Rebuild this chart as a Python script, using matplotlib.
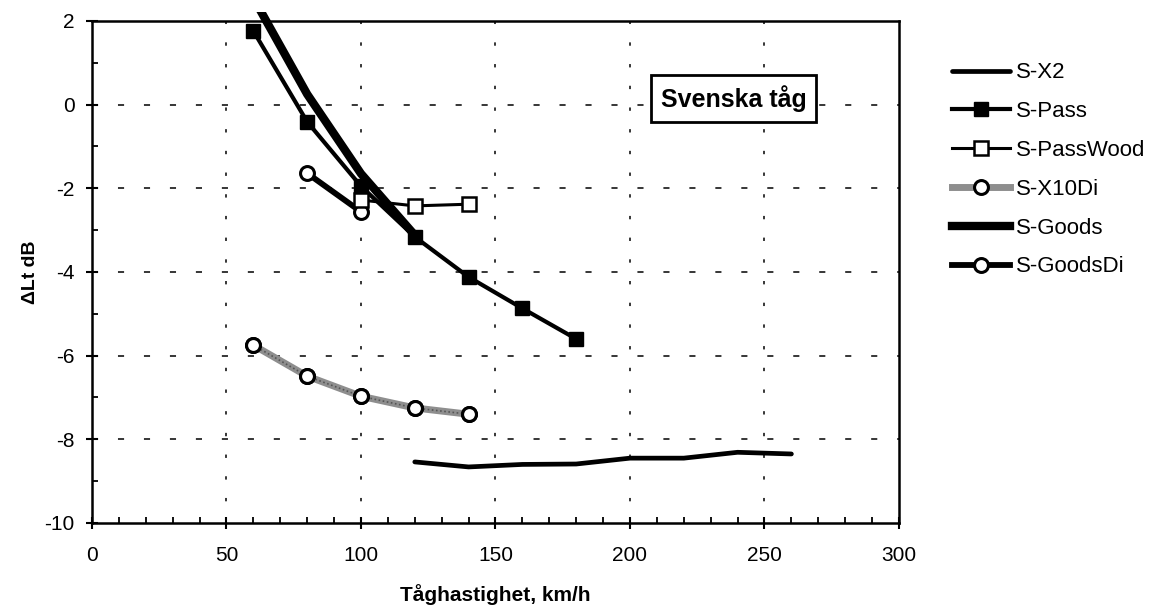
import matplotlib
matplotlib.use("Agg")
import matplotlib.pyplot as plt
from matplotlib.patches import Rectangle
from matplotlib.ticker import MultipleLocator

plt.rcParams['font.family'] = ['Liberation Sans', 'DejaVu Sans']
plt.rcParams['axes.unicode_minus'] = False

# Speed (km/h) and level difference (dB) for each train type
x_x2 = [120, 140, 160, 180, 200, 220, 240, 260]
y_x2 = [-8.54, -8.66, -8.60, -8.59, -8.45, -8.45, -8.31, -8.35]

x_pass = [60, 80, 100, 120, 140, 160, 180]
y_pass = [1.76, -0.41, -1.95, -3.16, -4.12, -4.87, -5.60]

x_passwood = [100, 120, 140]
y_passwood = [-2.28, -2.42, -2.38]

x_x10di = [60, 80, 100, 120, 140]
y_x10di = [-5.75, -6.49, -6.97, -7.25, -7.40]

x_goods = [60, 80, 100, 120]
y_goods = [2.55, 0.25, -1.65, -3.12]

x_goodsdi = [80, 100]
y_goodsdi = [-1.64, -2.56]

fig = plt.figure(figsize=(11.57, 6.15), dpi=100)
ax = fig.add_axes([0.0795, 0.1496, 0.6975, 0.8163])

ax.set_xlim(0, 300)
ax.set_ylim(-10, 2)

# grid: dashed horizontals, dotted verticals
for yv in [0, -2, -4, -6, -8]:
    ax.axhline(yv, color='black', lw=1.1, dashes=(4, 13), zorder=1)
for xv in [50, 100, 150, 200, 250]:
    ax.axvline(xv, color='black', lw=1.1, dashes=(2.2, 12), zorder=1)

l_x2, = ax.plot(x_x2, y_x2, color='black', lw=3.4, solid_capstyle='round',
                label='S-X2', zorder=3)
l_pass, = ax.plot(x_pass, y_pass, color='black', lw=3.0, marker='s', ms=10,
                  mfc='black', mec='black', label='S-Pass', zorder=4)
l_wood, = ax.plot(x_passwood, y_passwood, color='black', lw=2.2, marker='s',
                  ms=10, mfc='white', mec='black', mew=1.8,
                  label='S-PassWood', zorder=5)
# hatched grey band: grey base with a fine dark dash pattern on top
l_x10, = ax.plot(x_x10di, y_x10di, color='#8e8e8e', lw=5.0, marker='o', ms=10,
                 mfc='white', mec='black', mew=2.2, label='S-X10Di', zorder=4)
ax.plot(x_x10di, y_x10di, color='#555555', lw=1.2, dashes=(1, 1.5), zorder=4)
ax.plot(x_x10di, y_x10di, ls='none', marker='o', ms=10, mfc='white',
        mec='black', mew=2.2, zorder=4.5)
l_goods, = ax.plot(x_goods, y_goods, color='black', lw=6.0, label='S-Goods',
                   zorder=3)
l_goods.set_clip_path(Rectangle((0, 0), 1, 1.018, transform=ax.transAxes))
l_gdi, = ax.plot(x_goodsdi, y_goodsdi, color='black', lw=4.2, marker='o',
                 ms=10, mfc='white', mec='black', mew=2.2, label='S-GoodsDi',
                 zorder=4)

for s in ax.spines.values():
    s.set_linewidth(1.8)
    s.set_zorder(6)

ax.xaxis.set_major_locator(MultipleLocator(50))
ax.xaxis.set_minor_locator(MultipleLocator(10))
ax.yaxis.set_major_locator(MultipleLocator(2))
ax.yaxis.set_minor_locator(MultipleLocator(1))
ax.tick_params(which='major', direction='inout', length=9, width=1.5,
               labelsize=15)
ax.tick_params(which='minor', direction='in', length=4, width=1.3)
ax.tick_params(axis='x', pad=12)
ax.tick_params(axis='y', pad=8)

ax.set_xlabel('Tåghastighet, km/h', fontsize=15, fontweight='bold',
              labelpad=14)
ax.set_ylabel('ΔLt dB', fontsize=14, fontweight='bold', labelpad=4)

ax.text(0.795, 0.846, 'Svenska tåg', transform=ax.transAxes, fontsize=18,
        fontweight='bold', ha='center', va='center', zorder=7,
        bbox=dict(boxstyle='square,pad=0.4', fc='white', ec='black', lw=2.0))

fig.legend(handles=[l_x2, l_pass, l_wood, l_x10, l_goods, l_gdi],
           loc='upper left', bbox_to_anchor=(0.815, 0.913), frameon=False,
           fontsize=16, handlelength=2.6, handletextpad=0.3,
           labelspacing=0.8, borderaxespad=0)

fig.savefig('out.png', dpi=100, facecolor='white')
